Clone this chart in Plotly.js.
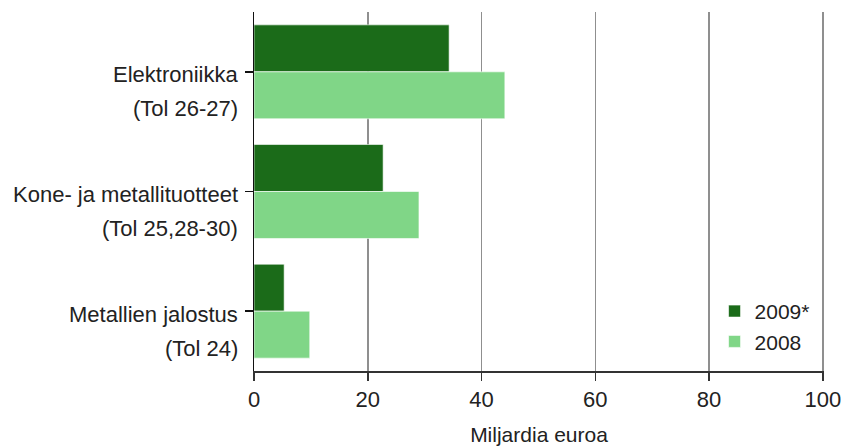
<!DOCTYPE html>
<html>
<head>
<meta charset="utf-8">
<script src="https://cdn.plot.ly/plotly-3.0.1.min.js"></script>
<style>html,body{margin:0;padding:0;background:#fff;}#chart{width:845px;height:446px;}</style>
</head>
<body>
<div id="chart"></div>
<script>
const categories = ["Elektroniikka", "Kone- ja metallituotteet", "Metallien jalostus"];
const categorySubLabels = ["(Tol 26-27)", "(Tol 25,28-30)", "(Tol 24)"];
const series2009 = [34.3, 22.7, 5.3];
const series2008 = [44.1, 29.0, 9.8];
const seriesNames = ["2009*", "2008"];
const xTickValues = [0, 20, 40, 60, 80, 100];
const xTitle = "Miljardia euroa";

const FONT = "Liberation Sans, Arial, sans-serif";
const TEXT = "#222222";

const traces = [
  {type: "bar", orientation: "h", name: seriesNames[0], y: categories, x: series2009,
   marker: {color: "#1b6b19", line: {color: "rgba(255,255,255,0.6)", width: 1}}, hoverinfo: "x+name"},
  {type: "bar", orientation: "h", name: seriesNames[1], y: categories, x: series2008,
   marker: {color: "#80d687", line: {color: "rgba(255,255,255,0.6)", width: 1}}, hoverinfo: "x+name"}
];

const annotations = [];
categories.forEach((c, i) => {
  annotations.push({xref: "paper", yref: "y", x: 0, y: i, xanchor: "right", yanchor: "middle",
    xshift: -14, yshift: -3, text: c, showarrow: false, font: {family: FONT, size: 22, color: TEXT}});
  annotations.push({xref: "paper", yref: "y", x: 0, y: i, xanchor: "right", yanchor: "middle",
    xshift: -14, yshift: -37, text: categorySubLabels[i], showarrow: false, font: {family: FONT, size: 22, color: TEXT}});
});

const layout = {
  width: 845, height: 446,
  margin: {l: 254, r: 21, t: 12, b: 75, pad: 0},
  paper_bgcolor: "#ffffff", plot_bgcolor: "#ffffff",
  font: {family: FONT, size: 22, color: TEXT},
  barmode: "group", bargap: 0.215, bargroupgap: 0,
  showlegend: true,
  legend: {x: 0.808, y: 0.223, xanchor: "left", yanchor: "top", traceorder: "normal",
    bgcolor: "rgba(0,0,0,0)", borderwidth: 0, font: {family: FONT, size: 21, color: TEXT}},
  xaxis: {
    range: [0, 100.2], tickvals: xTickValues, ticktext: xTickValues.map(String),
    showgrid: true, gridcolor: "#8f8f8f", gridwidth: 1.5, zeroline: false,
    showline: true, linecolor: "#333333", linewidth: 1.5,
    ticks: "outside", ticklen: 8, tickcolor: "#333333", tickwidth: 1.5,
    tickfont: {family: FONT, size: 22, color: TEXT},
    title: {text: xTitle, font: {family: FONT, size: 21, color: TEXT}, standoff: 22},
    fixedrange: true
  },
  yaxis: {
    type: "category", categoryorder: "array", categoryarray: categories,
    range: [2.5, -0.5], showticklabels: false,
    showgrid: false, zeroline: false,
    showline: true, linecolor: "#111111", linewidth: 1.5,
    ticks: "outside", ticklen: 8, tickcolor: "#111111", tickwidth: 1.5,
    fixedrange: true
  },
  annotations: annotations
};

Plotly.newPlot("chart", traces, layout, {displayModeBar: false, staticPlot: true});
</script>
</body>
</html>
